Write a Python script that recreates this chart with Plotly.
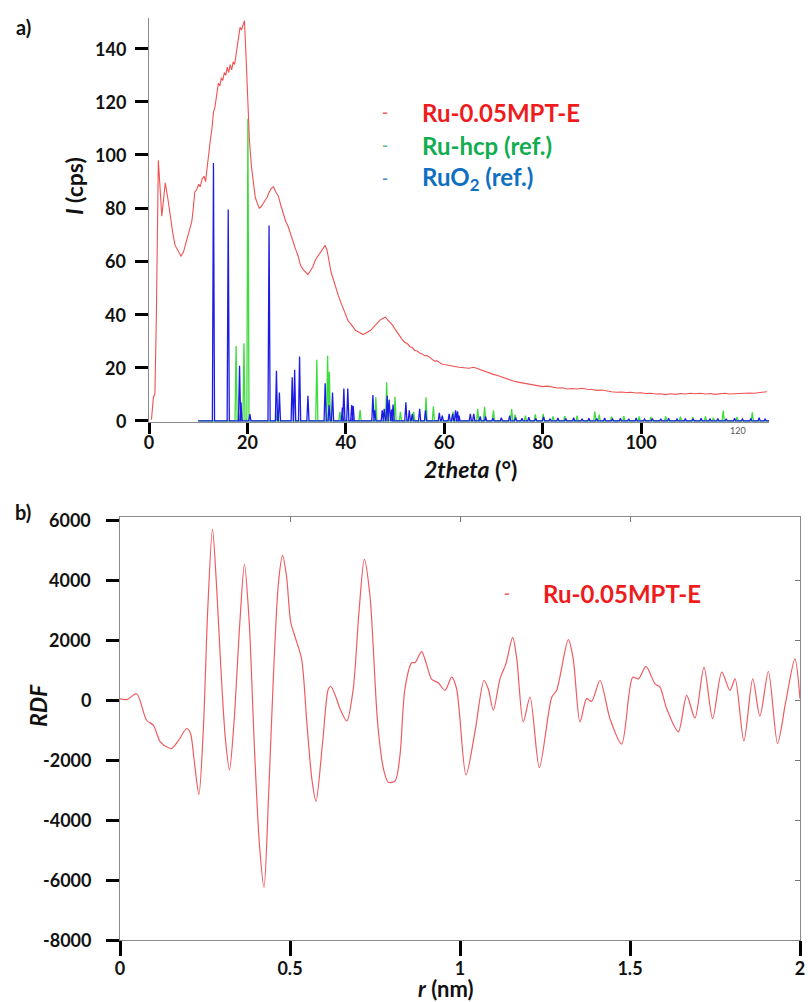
import plotly.graph_objects as go

# ---------------- Panel a) XRD data ----------------
theta = [0.5, 0.9, 1.2, 1.5, 1.9, 2.2, 2.6, 3.0, 3.3, 3.8, 4.3, 4.8, 5.3, 5.9, 6.5, 7.0, 7.4, 7.8,
         8.3, 8.7, 9.0, 9.3, 9.7, 10.1, 10.4, 10.8, 11.2, 11.5, 11.8, 12.1, 12.5, 12.8, 13.1, 13.4,
         13.7, 14.1, 14.4, 14.7, 15.0, 15.3, 15.6, 15.9, 16.2, 16.5, 16.8, 17.1, 17.4, 17.7, 18.0,
         18.3, 18.5, 18.8, 19.1, 19.4, 19.7, 20.0, 20.4, 20.8, 21.2, 21.6, 22.0, 22.4, 22.8, 23.2,
         23.6, 24.0, 24.4, 24.9, 25.3, 25.8, 26.3, 26.8, 27.3, 27.8, 28.3, 28.8, 29.3, 29.8, 30.3,
         30.8, 31.3, 31.8, 32.3, 32.8, 33.3, 33.8, 34.3, 34.8, 35.3, 35.8, 36.2, 36.6, 37.0, 37.5,
         38.0, 38.5, 39.0, 39.5, 40.0, 40.5, 41.0, 41.5, 42.0, 42.5, 43.0, 43.5, 44.0, 44.5, 45.0,
         45.5, 46.0, 46.5, 47.0, 47.5, 48.0, 48.5, 49.0, 49.5, 50.0, 50.5, 51.0, 51.5, 52, 52.5, 53,
         53.5, 54, 54.5, 55, 55.5, 56, 56.5, 57, 57.5, 58, 58.5, 59, 59.5, 60, 61, 62, 63, 64, 65,
         66, 67, 68, 69, 70, 71, 72, 73, 74, 75, 76, 77, 78, 79, 80, 81, 82, 83, 84, 85, 86, 87,
         88, 89, 90, 91, 92, 93, 94, 95, 96, 97, 98, 99, 100, 101, 102, 103, 104, 105, 106, 107,
         108, 109, 110, 111, 112, 113, 114, 115, 116, 117, 118, 119, 120, 121, 122, 123, 124, 125,
         125.6]
intensity = [0.5, 9, 10, 40, 98, 90, 77, 84, 89.5, 84, 77, 71, 66, 64, 62, 63.5, 66, 69,
             72, 75, 80, 86, 87, 89, 88, 91, 92, 90, 95, 101, 106, 110, 116, 118,
             122, 127, 126, 129, 128, 131, 130, 133, 131, 134, 132, 135, 134, 138, 140,
             144, 148, 147, 149, 150.5, 138, 122, 106, 96, 90, 84, 82, 80, 80.5, 82,
             83, 84, 86, 87.5, 88, 86, 84.5, 81, 78, 75, 73, 70, 67, 64.5, 62,
             58.5, 57, 56, 55, 56.5, 58, 60.5, 62, 63.5, 65, 66, 64, 60, 56, 53,
             49.5, 47, 44.5, 42, 40, 37.5, 36.5, 35, 34, 33.5, 33, 32.5, 33, 33.5, 34,
             35, 36, 37, 38, 38.5, 39, 38, 37, 36, 34.5, 33, 32, 30.5, 29.5, 29.1, 28,
             27.6, 26.5, 26.3, 25.5, 25.2, 24.5, 24.6, 24, 23.2, 22.5, 22.6, 22, 21.4, 21.2, 20.8, 20.5, 20.2, 20, 19.8,
             20.2, 19.5, 19, 18, 17.5, 17, 16.3, 15.6, 15, 14.6, 14.3, 13.9, 13.5, 13.2, 12.9, 13.1, 12.7, 12.4, 12.5, 12.0, 12.2, 12.0,
             12.3, 11.9, 11.8, 11.5, 11.6, 11.2, 11.0, 10.8, 10.9, 10.7, 10.8, 10.5, 10.6, 10.3, 10.4, 10.1, 10.2, 9.9, 10.2, 10.0,
             10.3, 10.1, 10.4, 10.2, 10.4, 10.1, 10.3, 10.0, 10.2, 10.4, 10.1, 10.2, 10.4, 10.3, 10.5, 10.4, 10.6, 10.9,
             11.0]

# Ru-hcp reference peaks (position in 2theta, height in cps)
hcp_pos = [17.7, 19.3, 20.1, 26.1, 34.1, 36.3, 36.65, 38.8, 42.9, 46.1, 48.3, 50.0, 51.1, 53.8,
           56.3, 57.8, 61.8, 66.8, 68.2, 70.0, 73.7, 74.4, 76.5, 78.5, 80.1, 82.1, 84.5, 87.0,
           90.6, 91.5, 94.0, 96.5, 99.6, 102.0, 105.0, 108.0, 110.5, 113.1, 114.7, 116.7, 119.5,
           122.6]
hcp_int = [28.2, 29.2, 113.6, 4, 23, 24.5, 18.5, 3.4, 4.1, 8.9, 14.5, 9.1, 3.4, 3.4,
           8.9, 5.5, 3.4, 4.6, 5.3, 4, 4.5, 2.4, 2, 2.5, 2.7, 1.7, 1.8, 2,
           3.5, 2.4, 1.6, 1.8, 1.7, 1.5, 1.7, 1.6, 1.4, 1.7, 1.2, 3.9, 1.5,
           3.2]

# RuO2 reference peaks
ruo2_pos = [13.1, 16.1, 18.4, 18.7, 20.5, 24.4, 25.9, 26.5, 29.1, 29.6, 30.6, 32.3, 35.8, 36.6,
            37.3, 39.3, 39.6, 40.4, 41.2, 41.5, 45.5, 45.9, 47.4, 47.8, 48.4, 48.8, 49.3, 49.6,
            52.2, 52.9, 53.5, 55.0, 56.2, 59.0, 59.6, 61.0, 61.7, 62.3, 62.7, 63.0, 65.3, 66.0,
            67.3, 68.4, 69.9, 71.6, 73.3, 74.5, 75.8, 77.2, 78.6, 80.2, 81.5, 83.1, 84.7, 86.3,
            88.0, 89.4, 91.0, 92.6, 94.2, 95.8, 97.5, 99.0, 100.7, 102.3, 104.0, 105.6, 107.3,
            109.0, 110.6, 112.2, 114.0, 115.6, 117.3, 119.0, 120.6, 122.3, 124.0, 125.2]
ruo2_int = [97, 79.5, 20.7, 7, 2.6, 73.5, 18.9, 10.7, 16.4, 19.2, 24.2, 9.5, 14.2, 6,
            10.7, 5, 12.2, 12.2, 6, 5.6, 9.7, 4, 4, 4.6, 9.5, 8, 4.3, 6.2,
            7, 4, 2.7, 4.6, 4, 3, 2, 2.7, 2.7, 4, 3.6, 2, 2.7, 2.7,
            1.7, 1.7, 1.0, 1.2, 2.0, 1.3, 1.0, 1.4, 0.9, 1.5, 0.8, 1.1, 0.9, 1.2,
            0.8, 1.0, 0.9, 1.1, 0.7, 1.0, 0.8, 1.1, 0.7, 0.9, 0.8, 1.0, 0.7,
            0.9, 0.8, 1.0, 0.7, 0.9, 0.8, 1.0, 0.7, 0.9, 1.2, 0.8]

theta_ticks = [0, 20, 40, 60, 80, 100]
int_ticks = [0, 20, 40, 60, 80, 100, 120, 140]

# ---------------- Panel b) RDF data ----------------
r_nm = [0, 0.022, 0.049, 0.078, 0.098, 0.118, 0.135, 0.152, 0.175, 0.196, 0.207, 0.218, 0.232,
        0.245, 0.258, 0.272, 0.284, 0.296, 0.31, 0.322, 0.335, 0.352, 0.366, 0.38, 0.395, 0.41,
        0.4235, 0.437, 0.452, 0.466, 0.478, 0.49, 0.502, 0.515, 0.534, 0.55, 0.565, 0.5765,
        0.596, 0.613, 0.62, 0.635, 0.647, 0.667, 0.686, 0.702, 0.7186, 0.735, 0.758, 0.775,
        0.789, 0.809, 0.8235, 0.838, 0.858, 0.868, 0.887, 0.9, 0.917, 0.936, 0.956, 0.9755,
        0.99, 1.0176, 1.044, 1.0706, 1.083, 1.098, 1.1176, 1.135, 1.155, 1.167, 1.186, 1.206,
        1.2334, 1.27, 1.284, 1.3186, 1.333, 1.353, 1.3726, 1.387, 1.4118, 1.441, 1.4755, 1.508,
        1.525, 1.547, 1.5735, 1.588, 1.608, 1.642, 1.6667, 1.691, 1.7176, 1.743, 1.77, 1.794,
        1.809, 1.835, 1.861, 1.882, 1.907, 1.934, 1.958, 1.985, 2.0]
rdf = [40, 20, 210, -675, -840, -1390, -1550, -1615, -1300, -950, -1100, -2000, -3150,
       -1000, 3000, 5700, 3800, 1200, -1300, -2330, -800, 2500, 4520, 2600, -1500, -4800,
       -6250, -3200, 1000, 3900, 4820, 4100, 2600, 2100, 1370, -830, -2700, -3380,
       -1400, 375, 450, 100, -290, -700, 375, 2800, 4690, 3500, -800, -2300,
       -2740, -2700, -1835, 375, 1240, 1250, 1615, 1250, 685, 575, 320, 760,
       375, -2500, -1060, 650, 375, -340, 705, 1205, 2090, 1370, -730, 100,
       -2255, 100, 320, 2010, 1370, -730, 45, -45, 650, -620, -1470, 760,
       705, 1120, 540, 430, -290, -1060, 155, -600, 1095, -620, 930, 320,
       705, -1370, 705, -540, 950, -1450, -66, 1370, 40]

r_ticks = [0, 0.5, 1, 1.5, 2]
r_ticktext = ["0", "0.5", "1", "1.5", "2"]
rdf_ticks = [-8000, -6000, -4000, -2000, 0, 2000, 4000, 6000]
rdf_ticktext = ["-8000", "-6000", "-4000", "-2000", "0", "2000", "4000", "6000"]


def stick_path(pos, hgt, start, end, half=0.22):
    xs, ys = [start], [0]
    for p, h in sorted(zip(pos, hgt)):
        xs += [p - half, p, p + half]
        ys += [0, h, 0]
    xs.append(end)
    ys.append(0)
    return xs, ys


W, H = 808, 1002
FONT = "Lato"


def px(x):
    return x / W


def py(y):
    return 1 - y / H


fig = go.Figure()

gx, gy = stick_path(hcp_pos, hcp_int, 10, 126)
bx, by = stick_path(ruo2_pos, ruo2_int, 10, 126)

fig.add_trace(go.Scatter(x=gx, y=gy, xaxis="x", yaxis="y", mode="lines",
                         line=dict(color="#3ddc3d", width=1.3), hoverinfo="skip"))
fig.add_trace(go.Scatter(x=bx, y=by, xaxis="x", yaxis="y", mode="lines",
                         line=dict(color="#1c1ce6", width=1.3), hoverinfo="skip"))
fig.add_trace(go.Scatter(x=theta, y=intensity, xaxis="x", yaxis="y", mode="lines",
                         line=dict(color="#f05252", width=1.1)))
fig.add_trace(go.Scatter(x=r_nm, y=rdf, xaxis="x2", yaxis="y2", mode="lines",
                         line=dict(color="#ef5b62", width=1.2, shape="spline", smoothing=0.8)))
fig.add_trace(go.Scatter(x=[None], y=[None], xaxis="x3", yaxis="y3", mode="lines",
                         hoverinfo="skip"))

tickfont = dict(family=FONT, size=18, color="#111111", weight="bold")
axis_common = dict(showgrid=False, zeroline=False, showline=True, linecolor="#8a8a8a",
                   linewidth=1.2, ticks="outside", tickcolor="#000000", tickwidth=3,
                   tickfont=tickfont, automargin=False)

fig.update_layout(
    width=W, height=H,
    margin=dict(l=0, r=0, t=0, b=0, autoexpand=False),
    paper_bgcolor="white", plot_bgcolor="white",
    showlegend=False,
    xaxis=dict(domain=[px(149), px(769)], anchor="y", range=[0, 126],
               tickvals=theta_ticks, ticklen=11, ticklabelstandoff=-7, **axis_common),
    yaxis=dict(domain=[py(422), py(18)], anchor="x", range=[-0.4, 151.5],
               tickvals=int_ticks, ticklen=13, showticklabels=False, **axis_common),
    xaxis2=dict(domain=[px(120), px(800)], anchor="y2", range=[0, 2], mirror=True,
                tickvals=r_ticks, ticktext=r_ticktext, ticklen=15, ticklabelstandoff=-3,
                **axis_common),
    yaxis2=dict(domain=[py(940), py(517)], anchor="x2", range=[-8000, 6100], mirror=True,
                tickvals=rdf_ticks, ticklen=13, showticklabels=False, **axis_common),
    xaxis3=dict(overlaying="x2", side="top", anchor="y2", range=[0, 2], automargin=False,
                tickvals=[0.5, 1, 1.5], ticks="inside", ticklen=5, tickwidth=1,
                tickcolor="#777777", showticklabels=False, showline=False,
                showgrid=False, zeroline=False),
    yaxis3=dict(overlaying="y2", side="right", anchor="x2", range=[-8000, 6100], automargin=False,
                tickvals=[-6000, -4000, -2000, 0, 2000, 4000], ticks="inside", ticklen=5,
                tickwidth=1, tickcolor="#777777", showticklabels=False, showline=False,
                showgrid=False, zeroline=False),
)

ann = []


def add_text(x, y, text, size, color="#111111", xanchor="center", angle=0):
    ann.append(dict(x=px(x), y=py(y), xref="paper", yref="paper", text=text,
                    showarrow=False, xanchor=xanchor, yanchor="middle", textangle=angle,
                    borderpad=0, font=dict(family=FONT, size=size, color=color)))


# y tick labels placed on the value axes
for v in int_ticks:
    ann.append(dict(x=px(127), y=v, xref="paper", yref="y", text=str(v), showarrow=False,
                    xanchor="right", yanchor="middle", borderpad=0,
                    font=dict(family=FONT, size=18, color="#111111", weight="bold")))
for v, t in zip(rdf_ticks, rdf_ticktext):
    ann.append(dict(x=px(92), y=v, xref="paper", yref="y2", text=t, showarrow=False,
                    xanchor="right", yanchor="middle", borderpad=0,
                    font=dict(family=FONT, size=18, color="#111111", weight="bold")))

# panel labels
add_text(23, 27, "<b>a)</b>", 20)
add_text(23, 512, "<b>b)</b>", 20)
# axis titles
add_text(74, 186, "<b><i>I</i> (cps)</b>", 23, angle=-90)
add_text(471, 469, "<b><i>2theta</i> (°)</b>", 23)
add_text(38, 706, "<b><i>RDF</i></b>", 23, angle=-90)
add_text(446, 988, "<b><i>r</i> (nm)</b>", 22)
# stray small label
add_text(738, 430, "120", 9, color="#555555")

# legend panel a
add_text(385, 112, "<b>-</b>", 16, color="#f06464")
add_text(421, 113, "<b>Ru-0.05MPT-E</b>", 24, color="#ee1c1c", xanchor="left")
add_text(385, 145, "<b>-</b>", 16, color="#5dbf86")
add_text(421, 146, "<b>Ru-hcp (ref.)</b>", 24, color="#12ad50", xanchor="left")
add_text(385, 177, "<b>-</b>", 16, color="#4a8fd0")
add_text(421, 179, "<b>RuO<sub>2</sub> (ref.)</b>", 24, color="#0f6fc0", xanchor="left")
# legend panel b
add_text(507, 592, "<b>-</b>", 16, color="#f06464")
add_text(542, 593, "<b>Ru-0.05MPT-E</b>", 24, color="#ee1c1c", xanchor="left")

fig.update_layout(annotations=ann)

fig.write_html("out.html", config={"displayModeBar": False},
               post_script="document.body.style.margin='0px';")
